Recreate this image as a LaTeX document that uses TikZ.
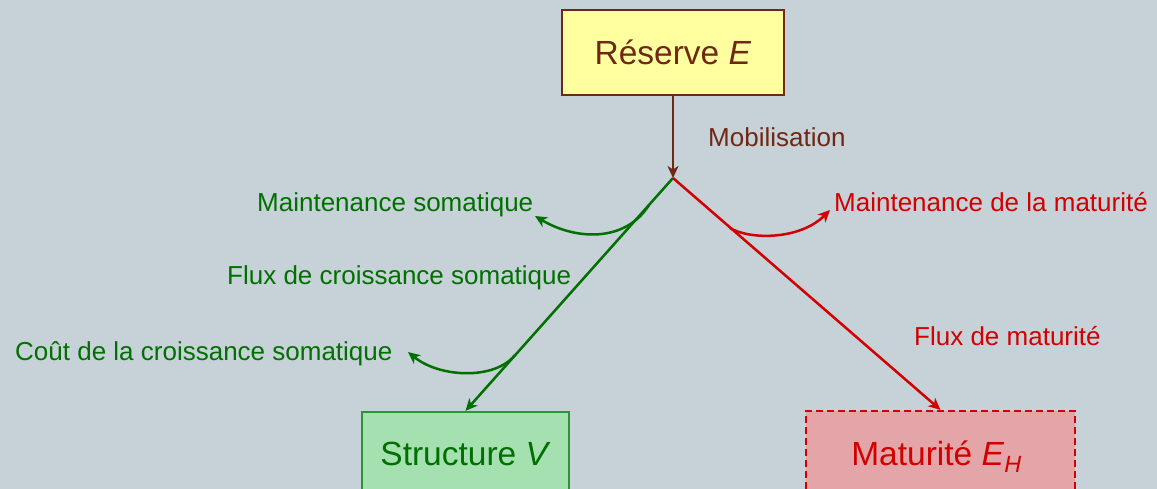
\documentclass[tikz,border=0pt]{standalone}
\usepackage{fontspec}
\setmainfont{Liberation Sans}
\usetikzlibrary{arrows.meta,calc}

\definecolor{bgcol}{RGB}{198,209,216}
\definecolor{resfill}{RGB}{255,255,160}
\definecolor{brownc}{RGB}{110,40,20}
\definecolor{greenc}{RGB}{0,112,0}
\definecolor{greenbox}{RGB}{40,150,55}
\definecolor{greenfill}{RGB}{164,224,176}
\definecolor{redc}{RGB}{210,0,0}
\definecolor{redfill}{RGB}{227,165,168}

\tikzset{
  boxnode/.style={draw, line width=2.2pt, inner sep=0pt, font=\fontsize{33.5}{40}\selectfont,
    text height=24pt, text depth=0pt},
  lbl/.style={inner sep=0pt, anchor=base west, font=\fontsize{26}{31}\selectfont},
  flow/.style={line width=2.5pt, -{Stealth[length=12pt,width=11pt,inset=3.5pt]}},
}

\begin{document}
\begin{tikzpicture}[x=1pt,y=-1pt]
  \fill[bgcol] (0,0) rectangle (1157,489);
  \useasboundingbox (0,0) rectangle (1157,489);
  \clip (0,0) rectangle (1157,489);

  % compartments
  \node[boxnode, brownc, fill=resfill, minimum width=222pt, minimum height=85pt]
    (res) at (673,52.5) {Réserve \textit{E}};
  \node[boxnode, draw=greenbox, text=greenc, fill=greenfill, minimum width=207pt, minimum height=82pt]
    (str) at (465.5,453) {Structure \textit{V}};
  \node[boxnode, draw=redc, text=redc, fill=redfill, dash pattern=on 7pt off 4pt,
    minimum width=269pt, minimum height=84pt]
    (mat) at (940.5,453) {\hspace*{-8pt}Maturité \textit{E}\textsubscript{\textit{H}}};

  % branching point
  \coordinate (j) at (673,178);

  % mobilisation flux
  \draw[flow, brownc] (res.south) -- (j);
  \node[lbl, text=brownc] (mob) at (708,147) {Mobilisation};

  % growth and maturity fluxes
  \draw[flow, greenc] (j) -- (str.north);
  \draw[flow, redc] (j) -- (mat.north);

  % losses branching off the fluxes
  \coordinate (gs1) at (649,205);
  \coordinate (ge1) at (535,216);
  \draw[flow, greenc] (gs1) .. controls (625,243) and (575,240) .. (ge1);

  \coordinate (gs2) at (515,355);
  \coordinate (ge2) at (408,352);
  \draw[flow, greenc] (gs2) .. controls (495,380) and (440,378) .. (ge2);

  \coordinate (rs1) at (730,228);
  \coordinate (re1) at (830,210);
  \draw[flow, redc] (rs1) .. controls (750,240) and (800,240) .. (re1);

  % labels
  \node[lbl, text=greenc] (l1) at (257,212) {Maintenance somatique};
  \node[lbl, text=greenc] (l2) at (227,284) {Flux de croissance somatique};
  \node[lbl, text=greenc] (l3) at (15,360) {Coût de la croissance somatique};
  \node[lbl, text=redc] (l4) at (834,212) {Maintenance de la maturité};
  \node[lbl, text=redc] (l5) at (914,345) {Flux de maturité};
\end{tikzpicture}
\end{document}
